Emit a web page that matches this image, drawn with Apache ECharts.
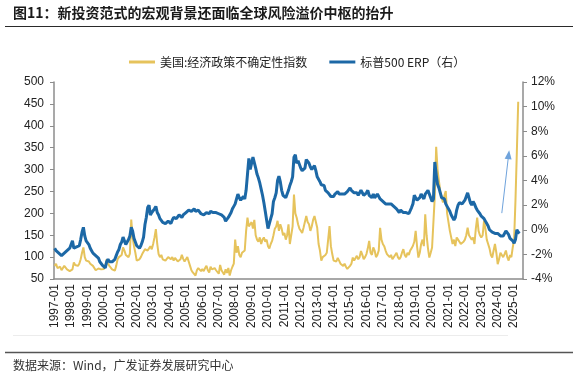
<!DOCTYPE html>
<html>
<head>
<meta charset="utf-8">
<script src="https://cdn.jsdelivr.net/npm/echarts@6/dist/echarts.min.js"></script>
<style>
html,body{margin:0;padding:0;background:#fff;}
#c{width:579px;height:378px;}
</style>
</head>
<body>
<div id="c"></div>
<script>
// Month categories 1997-01 .. 2025-07
var categories = [];
for (var y = 1997; y <= 2025; y++) {
  for (var m = 1; m <= 12; m++) {
    if (y === 2025 && m > 7) break;
    categories.push(y + '-' + (m < 10 ? '0' + m : m));
  }
}
var leftTicks = [50, 500, 50];   // min, max, interval
var rightTicks = [-4, 12, 2];

// 美国:经济政策不确定性指数 (monthly)
var epu = [
  80, 85, 75, 72, 78, 70, 74, 80, 76, 72, 70, 68,          // 1997
  66, 72, 88, 82, 78, 80, 85, 95, 110, 122, 100, 92,       // 1998
  95, 90, 85, 84, 80, 76, 70, 69, 74, 78, 72, 70,          // 1999
  73, 80, 95, 85, 80, 78, 72, 70, 69, 80, 95, 100,         // 2000
  100, 105, 122, 115, 105, 102, 100, 108, 186, 145, 125, 110, // 2001
  92, 88, 95, 100, 107, 110, 118, 122, 115, 120, 125, 118, // 2002
  130, 145, 164, 130, 107, 100, 105, 95, 98, 92, 95, 100,  // 2003
  99, 95, 100, 92, 98, 95, 90, 92, 95, 105, 96, 90,        // 2004
  95, 100, 90, 80, 70, 65, 62, 58, 70, 75, 72, 68,         // 2005
  73, 68, 75, 80, 70, 65, 78, 72, 68, 75, 70, 66,          // 2006
  62, 82, 70, 65, 60, 72, 64, 75, 58, 70, 78, 85,          // 2007
  140, 110, 125, 105, 100, 110, 108, 115, 160, 190, 170, 175, // 2008
  180, 165, 185, 150, 140, 135, 145, 130, 140, 145, 135, 140, // 2009
  125, 120, 130, 137, 150, 165, 170, 183, 160, 175, 165, 150, // 2010
  155, 140, 150, 175, 130, 126, 170, 243, 200, 190, 175, 165, // 2011
  160, 155, 167, 170, 194, 180, 175, 160, 170, 185, 194, 190, // 2012
  167, 130, 115, 92, 100, 99, 105, 110, 140, 171, 125, 107,   // 2013
  92, 95, 90, 98, 92, 85, 88, 80, 85, 78, 73, 75,             // 2014
  80, 85, 99, 92, 88, 103, 95, 100, 114, 105, 95, 100,        // 2015
  107, 120, 137, 110, 105, 122, 115, 100, 105, 115, 167, 140, // 2016
  130, 125, 115, 107, 110, 100, 105, 95, 98, 105, 110, 100,   // 2017
  95, 100, 110, 118, 105, 100, 110, 105, 115, 120, 126, 135,  // 2018
  160, 125, 99, 110, 130, 140, 125, 198, 150, 120, 99, 110,   // 2019
  122, 125, 240, 352, 300, 274, 250, 236, 225, 240, 251, 200, // 2020
  180, 160, 145, 130, 140, 125, 145, 140, 135, 130, 126, 135, // 2021
  140, 150, 167, 150, 145, 140, 145, 130, 165, 190, 160, 150, // 2022
  145, 150, 183, 165, 140, 130, 120, 105, 99, 115, 130, 110,  // 2023
  84, 95, 110, 105, 100, 107, 115, 100, 92, 105, 100, 122,    // 2024
  140, 230, 340, 455                                          // 2025
];

// 标普500 ERP (%) (monthly)
var erp = [
  -1.5, -1.7, -1.6, -1.9, -2.0, -2.1, -2.0, -1.9, -1.8, -1.7, -1.6, -1.5, // 1997
  -1.2, -0.9, -1.5, -1.6, -1.4, -1.5, -1.3, -0.8, -0.2, 0.2, -0.5, -0.9,  // 1998
  -1.0, -1.2, -1.5, -1.7, -1.9, -2.0, -2.1, -2.2, -2.3, -2.6, -2.7, -2.9, // 1999
  -3.0, -3.1, -2.6, -2.4, -2.6, -2.7, -2.6, -2.5, -2.4, -2.1, -1.8, -1.6, // 2000
  -1.2, -1.0, -0.6, -0.7, -1.2, -1.0, -0.8, -0.5, 0.2, -0.1, -0.7, -1.0,  // 2001
  -1.3, -1.4, -1.5, -1.3, -1.0, -0.6, 0.4, 1.0, 1.8, 2.0, 1.2, 1.4,       // 2002
  1.5, 1.7, 1.9, 1.4, 1.2, 0.9, 0.8, 0.6, 0.5, 0.5, 0.6, 0.7,             // 2003
  0.7, 0.5, 0.8, 1.0, 1.1, 0.9, 1.0, 1.2, 1.1, 1.0, 1.2, 1.3,             // 2004
  1.4, 1.3, 1.6, 1.7, 1.5, 1.6, 1.7, 1.5, 1.4, 1.6, 1.5, 1.3,             // 2005
  1.3, 1.2, 1.3, 1.4, 1.5, 1.3, 1.5, 1.6, 1.4, 1.3, 1.4, 1.3,             // 2006
  1.3, 1.4, 1.2, 1.3, 1.0, 0.7, 0.6, 1.0, 1.2, 1.4, 1.7, 1.9,             // 2007
  2.1, 2.5, 2.9, 2.6, 2.4, 2.3, 2.7, 2.5, 3.2, 4.5, 5.8, 4.9,             // 2008
  5.0, 5.9, 6.0, 5.0, 4.5, 4.2, 3.8, 3.3, 2.8, 2.2, 1.5, 0.8,             // 2009
  0.1, 0.5, 0.9, 1.3, 2.3, 2.6, 3.0, 4.0, 4.35, 3.9, 3.2, 2.8,            // 2010
  2.8, 2.6, 2.9, 3.2, 3.6, 3.9, 4.3, 5.9, 6.1, 5.4, 5.6, 5.5,             // 2011
  5.0, 4.8, 4.7, 5.0, 5.7, 5.6, 5.4, 5.1, 4.9, 5.0, 5.2, 4.8,             // 2012
  4.3, 4.2, 3.9, 3.65, 3.5, 3.6, 3.2, 3.1, 3.0, 2.9, 2.7, 2.6,            // 2013
  2.7, 2.9, 3.0, 3.1, 2.9, 2.8, 2.9, 3.0, 2.9, 3.0, 3.1, 3.2,             // 2014
  3.4, 3.2, 3.1, 3.0, 2.9, 3.0, 2.8, 2.7, 3.2, 3.1, 2.8, 2.9,             // 2015
  3.0, 3.2, 2.8, 2.7, 2.6, 2.9, 2.6, 2.7, 2.9, 2.8, 2.5, 2.4,             // 2016
  2.3, 2.2, 2.1, 2.0, 2.1, 2.2, 2.1, 2.0, 1.9, 1.8, 1.7, 1.6,             // 2017
  1.4, 1.6, 1.5, 1.4, 1.3, 1.4, 1.5, 1.3, 1.2, 1.8, 2.1, 2.8,             // 2018
  2.6, 2.4, 2.5, 2.6, 2.9, 2.7, 2.5, 2.9, 3.0, 3.2, 2.9, 2.6,             // 2019
  2.3, 2.5, 5.5, 4.5, 3.7, 3.4, 3.0, 2.6, 2.7, 2.5, 2.1, 1.9,             // 2020
  1.8, 1.5, 1.2, 1.0, 0.8, 1.0, 1.6, 2.0, 2.2, 2.3, 2.1, 2.2,             // 2021
  2.4, 2.7, 3.0, 2.6, 2.2, 2.0, 2.3, 2.1, 1.8, 1.6, 1.5, 1.3,             // 2022
  1.1, 1.0, 0.9, 0.7, 0.5, 0.3, 0.0, -0.1, -0.2, -0.1, -0.3, -0.2,        // 2023
  -0.3, -0.4, -0.5, -0.6, -0.5, -0.3, -0.1, 0.0, -0.4, -0.7, -0.8, -0.9,  // 2024
  -1.1, -0.8, 0.0, -0.2, -0.3                                             // 2025
];

// arrow annotation (category, right-axis value)
var arrowFrom = ['2024-04', 1.35];
var arrowTo = ['2024-09', 6.1];

var seriesNames = ['美国:经济政策不确定性指数', '标普500 ERP（右）'];
var titleText = '图11：新投资范式的宏观背景还面临全球风险溢价中枢的抬升';
var sourceText = '数据来源：Wind，广发证券发展研究中心';

var GOLD = '#e6c35c', BLUE = '#1c68a6';
var chart = echarts.init(document.getElementById('c'), null, {renderer: 'canvas'});
var axisColor = '#8c8c8c';
var labelFont = '"Liberation Sans", Arial, sans-serif';
chart.setOption({
  animation: false,
  backgroundColor: '#fff',
  textStyle: {fontFamily: labelFont},
  grid: {left: 54, right: 56, top: 82, bottom: 99, containLabel: false},
  legend: {
    left: 124, top: 51,
    itemWidth: 26, itemHeight: 3, itemGap: 22,
    icon: 'rect',
    textStyle: {fontSize: 12, color: '#222', fontFamily: '"Noto Sans CJK SC", sans-serif'},
    data: seriesNames
  },
  xAxis: {
    type: 'category',
    data: categories,
    boundaryGap: true,
    axisLine: {onZero: false, lineStyle: {color: axisColor, width: 1.5}},
    axisTick: {interval: 11, alignWithLabel: true, length: 4, lineStyle: {color: axisColor}},
    axisLabel: {interval: 11, rotate: 90, fontSize: 12, color: '#222', margin: 5, fontFamily: labelFont},
    splitLine: {show: false}
  },
  yAxis: [{
    type: 'value', min: leftTicks[0], max: leftTicks[1], interval: leftTicks[2],
    axisLine: {show: true, lineStyle: {color: axisColor, width: 1.5}},
    axisTick: {show: true, length: 4, lineStyle: {color: axisColor}},
    axisLabel: {fontSize: 12, color: '#222', margin: 10, fontFamily: labelFont},
    splitLine: {show: false}
  }, {
    type: 'value', min: rightTicks[0], max: rightTicks[1], interval: rightTicks[2],
    position: 'right',
    axisLine: {show: true, lineStyle: {color: axisColor, width: 1.5}},
    axisTick: {show: true, length: 4, lineStyle: {color: axisColor}},
    axisLabel: {fontSize: 12, color: '#222', margin: 8, formatter: '{value}%', fontFamily: labelFont},
    splitLine: {show: false}
  }],
  series: [{
    name: seriesNames[0], type: 'line', yAxisIndex: 0,
    data: epu, showSymbol: false, symbol: 'none',
    lineStyle: {color: GOLD, width: 2}, itemStyle: {color: GOLD}, z: 2
  }, {
    name: seriesNames[1], type: 'line', yAxisIndex: 1,
    data: erp, showSymbol: false, symbol: 'none',
    lineStyle: {color: BLUE, width: 3}, itemStyle: {color: BLUE}, z: 3,
    markLine: {
      silent: true, symbol: ['none', 'triangle'], symbolSize: [7, 9],
      label: {show: false},
      lineStyle: {color: '#6fa3dc', width: 1, type: 'solid'},
      data: [[{coord: arrowFrom}, {coord: arrowTo}]]
    }
  }],
  graphic: [
    {type: 'text', left: 13, top: 6, style: {text: titleText, fontSize: 14, fontWeight: 'bold', fill: '#1a1a1a', fontFamily: '"Noto Sans CJK SC", sans-serif'}},
    {type: 'line', shape: {x1: 5, y1: 26.5, x2: 573, y2: 26.5}, style: {stroke: '#2a2a2a', lineWidth: 1.2}},
    {type: 'line', shape: {x1: 13, y1: 335.5, x2: 508, y2: 335.5}, style: {stroke: '#ececec', lineWidth: 1}},
    {type: 'line', shape: {x1: 5, y1: 352.5, x2: 573, y2: 352.5}, style: {stroke: '#555', lineWidth: 1.5}},
    {type: 'text', left: 13, top: 359, style: {text: sourceText, fontSize: 12, fill: '#333', fontFamily: '"Noto Sans CJK SC", sans-serif'}}
  ]
});
</script>
</body>
</html>
